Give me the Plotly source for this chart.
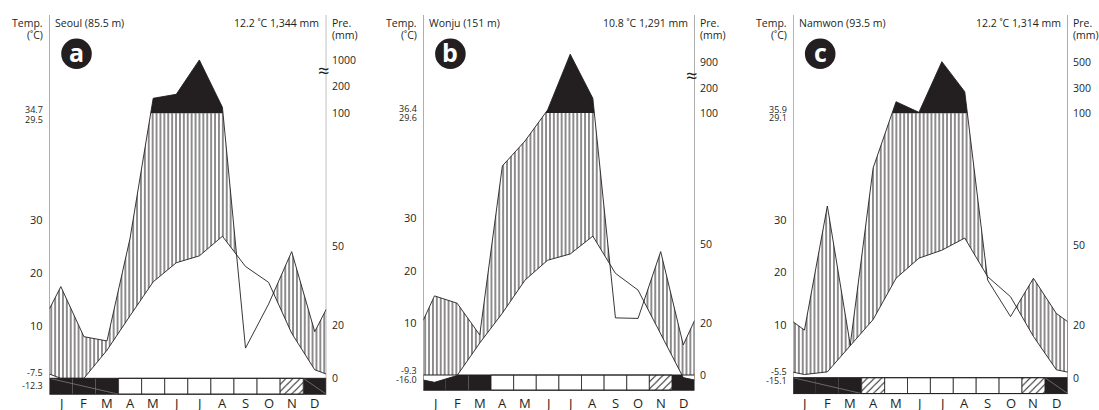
import numpy as np
import plotly.graph_objects as go

W, H = 1099, 410
MONTHS = ["J", "F", "M", "A", "M", "J", "J", "A", "S", "O", "N", "D"]
TEMP_TICKS = [10, 20, 30]

# ---------------- data ----------------
seoul_name = "Seoul (85.5 m)"
seoul_summary = "12.2 ˚C 1,344 mm"
seoul_temp = [0.0, 0.0, 5.3, 11.8, 18.2, 21.8, 23.1, 26.8, 21.1, 18.1, 8.5, 1.6]
seoul_prec = [34.6, 15.7, 14.1, 52.9, 155, 169.5, 1000, 122, 11.4, 28, 47.8, 17.6]
seoul_frost = ["b", "b", "b", "w", "w", "w", "w", "w", "w", "w", "h", "b"]
seoul_pre_ticks = [0, 20, 50, 100, 200, 1000]
seoul_max_labels = ["34.7", "29.5"]
seoul_min_labels = ["-7.5", "-12.3"]

wonju_name = "Wonju (151 m)"
wonju_summary = "10.8 ˚C 1,291 mm"
wonju_temp = [-1.4, -0.1, 6.1, 11.8, 18.1, 21.9, 23.1, 26.5, 19.4, 16.2, 8.0, -0.5]
wonju_prec = [30.2, 27.4, 15.3, 79.8, 89.3, 112, 1100, 158.7, 21.8, 21.6, 47.1, 11.5]
wonju_frost = ["b", "b", "b", "w", "w", "w", "w", "w", "w", "w", "h", "b"]
wonju_pre_ticks = [0, 20, 50, 100, 200, 900]
wonju_max_labels = ["36.4", "29.6"]
wonju_min_labels = ["-9.3", "-16.0"]

namwon_name = "Namwon (93.5 m)"
namwon_summary = "12.2 ˚C 1,314 mm"
namwon_temp = [0.6, 1.1, 6.1, 11.0, 18.8, 22.6, 24.1, 26.4, 19.1, 15.3, 7.8, 1.5]
namwon_prec = [18.0, 64.9, 12.4, 79.3, 192, 107, 500, 272, 36.9, 23.1, 37.6, 24.3]
namwon_frost = ["b", "b", "b", "h", "w", "w", "w", "w", "w", "w", "h", "b"]
namwon_pre_ticks = [0, 20, 50, 100, 300, 500]
namwon_max_labels = ["35.9", "29.1"]
namwon_min_labels = ["-5.5", "-15.1"]

# ---------------- layout / style config ----------------
INK = "#231f20"
FONT = "Open Sans"
panels = [
    dict(letter="a", name=seoul_name, summary=seoul_summary, temp=seoul_temp, prec=seoul_prec,
         frost=seoul_frost, pticks=seoul_pre_ticks, ppos=[0, 10, 25, 50, 55.15, 60.06],
         maxl=seoul_max_labels, minl=seoul_min_labels,
         left=49.3, right=326.3, y0=378.3, k=5.30, bar=-3.0,
         maxy=[109.0, 119.3], miny=[372.3, 385.0], brk=70.5, diag=True),
    dict(letter="b", name=wonju_name, summary=wonju_summary, temp=wonju_temp, prec=wonju_prec,
         frost=wonju_frost, pticks=wonju_pre_ticks, ppos=[0, 10, 25, 50, 54.77, 59.79],
         maxl=wonju_max_labels, minl=wonju_min_labels,
         left=423.2, right=694.6, y0=375.0, k=5.24, bar=-2.9,
         maxy=[108.3, 117.3], miny=[370.0, 379.3], brk=76.0, diag=False),
    dict(letter="c", name=namwon_name, summary=namwon_summary, temp=namwon_temp, prec=namwon_prec,
         frost=namwon_frost, pticks=namwon_pre_ticks, ppos=[0, 10, 25, 50, 54.71, 59.74],
         maxl=namwon_max_labels, minl=namwon_min_labels,
         left=793.0, right=1067.8, y0=377.7, k=5.29, bar=-3.0,
         maxy=[109.8, 117.8], miny=[371.0, 380.0], brk=None, diag=True),
]


def pscale(p, ticks, pos):
    """map precipitation (mm) to diagram units, piecewise linear through the right-axis ticks"""
    p = np.asarray(p, float)
    out = np.interp(p, ticks, pos)
    slope = (pos[-1] - pos[-2]) / (ticks[-1] - ticks[-2])
    over = p > ticks[-1]
    out[over] = pos[-1] + (p[over] - ticks[-1]) * slope
    return out


def refine(xs, series, consts):
    funcs = [np.asarray(s, float) for s in series] + [np.full(len(xs), c, float) for c in consts]
    rx = [xs[0]]
    for i in range(len(xs) - 1):
        ts = []
        for a in range(len(funcs)):
            for b in range(a + 1, len(funcs)):
                d0 = funcs[a][i] - funcs[b][i]
                d1 = funcs[a][i + 1] - funcs[b][i + 1]
                if d0 * d1 < 0:
                    ts.append(d0 / (d0 - d1))
        for t in sorted(ts):
            rx.append(xs[i] + t * (xs[i + 1] - xs[i]))
        rx.append(xs[i + 1])
    rx = np.array(rx)
    return rx, [np.interp(rx, xs, np.asarray(s, float)) for s in series]


def py2paper(py):
    return 1 - py / H


fig = go.Figure()
axes = {}
annotations = []
shapes = []

for idx, P in enumerate(panels):
    sfx = "" if idx == 0 else str(idx + 1)
    xa, ya = "x" + sfx, "y" + sfx
    axes["xaxis" + sfx] = dict(domain=[P["left"] / W, P["right"] / W], range=[0, 12],
                               visible=False, fixedrange=True, anchor=ya)
    axes["yaxis" + sfx] = dict(domain=[0, 1], range=[-(H - P["y0"]) / P["k"], P["y0"] / P["k"]],
                               visible=False, fixedrange=True, anchor=xa)

    def T(py, P=P):
        return (P["y0"] - py) / P["k"]

    temp = list(P["temp"])
    prec = list(P["prec"])
    xs = np.array([0.0] + [i + 0.5 for i in range(12)] + [12.0])
    t_edge = (temp[0] + temp[-1]) / 2
    p_edge = (prec[0] + prec[-1]) / 2
    tfull = np.array([t_edge] + temp + [t_edge])
    pfull = pscale([p_edge] + prec + [p_edge], P["pticks"], P["ppos"])

    rx, (rt, rp) = refine(xs, [tfull, pfull], [0.0, 50.0])
    lower = np.maximum(rt, 0)
    upper = np.maximum(np.minimum(rp, 50), lower)
    common = dict(xaxis=xa, yaxis=ya, mode="lines", hoverinfo="skip", showlegend=False)

    # humid period: vertical hatching
    fig.add_trace(go.Scatter(x=rx, y=lower, line=dict(width=0), **common))
    fig.add_trace(go.Scatter(x=rx, y=upper, line=dict(width=0), fill="tonexty", fillcolor="white",
                             fillpattern=dict(shape="|", size=3.9, solidity=0.26, fgcolor=INK,
                                              bgcolor="white", fillmode="replace"), **common))
    # precipitation > 100 mm: black
    fig.add_trace(go.Scatter(x=rx, y=np.full(len(rx), 50.0), line=dict(width=0), **common))
    fig.add_trace(go.Scatter(x=rx, y=np.maximum(rp, 50), line=dict(width=0), fill="tonexty",
                             fillcolor=INK, **common))

    # frost bar
    bb = P["bar"]
    for i, code in enumerate(P["frost"]):
        if code == "b":
            shapes.append(dict(type="rect", xref=xa, yref=ya, x0=i, x1=i + 1, y0=bb, y1=0,
                               fillcolor=INK, line=dict(width=0), layer="below"))
        elif code == "w":
            shapes.append(dict(type="rect", xref=xa, yref=ya, x0=i, x1=i + 1, y0=bb, y1=0,
                               fillcolor="white", line=dict(width=0.8, color=INK), layer="below"))
        else:
            fig.add_trace(go.Scatter(x=[i, i + 1, i + 1, i, i], y=[0, 0, bb, bb, 0], fill="toself",
                                     fillcolor="white", line=dict(width=0.8, color=INK),
                                     fillpattern=dict(shape="/", size=5, solidity=0.2, fgcolor=INK,
                                                      bgcolor="white", fillmode="replace"),
                                     **common))
    # below-zero temperatures: white wedge in the frost bar
    rx2, (rt2,) = refine(xs, [tfull], [0.0])
    fig.add_trace(go.Scatter(x=rx2, y=np.zeros(len(rx2)), line=dict(width=0), **common))
    fig.add_trace(go.Scatter(x=rx2, y=np.minimum(rt2, 0), line=dict(width=0), fill="tonexty",
                             fillcolor="white", **common))
    if P["diag"]:
        for (x0, x1) in [(0, 3), (11, 12)]:
            shapes.append(dict(type="line", xref=xa, yref=ya, x0=x0, x1=x1, y0=0, y1=bb,
                               line=dict(color="#8a8a8a", width=0.7)))

    # curves
    fig.add_trace(go.Scatter(x=xs, y=tfull, line=dict(color=INK, width=0.9), **common))
    fig.add_trace(go.Scatter(x=xs, y=pfull, line=dict(color=INK, width=0.9), **common))

    # frame lines
    top = T(15)
    shapes += [
        dict(type="line", xref=xa, yref=ya, x0=0, x1=12, y0=0, y1=0, line=dict(color=INK, width=1)),
        dict(type="line", xref=xa, yref=ya, x0=0, x1=12, y0=bb, y1=bb, line=dict(color=INK, width=1)),
        dict(type="line", xref=xa, yref=ya, x0=0, x1=0, y0=bb, y1=top, line=dict(color="#6d6d6d", width=1)),
        dict(type="line", xref=xa, yref=ya, x0=12, x1=12, y0=bb, y1=top, line=dict(color="#6d6d6d", width=1)),
    ]

    def ann(text, x, y, xref, yref, size=10.5, xanchor="center", xshift=0, color=INK, weight="normal"):
        annotations.append(dict(text=text, x=x, y=y, xref=xref, yref=yref, showarrow=False,
                                xanchor=xanchor, yanchor="middle", xshift=xshift, borderpad=0,
                                font=dict(family=FONT, size=size, color=color, weight=weight)))

    ann("Temp.", 0, py2paper(23.3), xa, "paper", xanchor="right", xshift=-5)
    ann("(˚C)", 0, py2paper(35.5), xa, "paper", xanchor="right", xshift=-5)
    ann(P["name"], 0, py2paper(23.3), xa, "paper", xanchor="left", xshift=4.5)
    ann(P["summary"], 12, py2paper(23.3), xa, "paper", xanchor="right", xshift=-6)
    ann("Pre.", 12, py2paper(23.3), xa, "paper", xanchor="left", xshift=4.5)
    ann("(mm)", 12, py2paper(35.5), xa, "paper", xanchor="left", xshift=4.5)
    for t in TEMP_TICKS:
        ann(str(t), 0, t, xa, ya, size=11, xanchor="right", xshift=-5)
    for p, yv in zip(P["pticks"], pscale(P["pticks"], P["pticks"], P["ppos"])):
        ann(str(p), 12, float(yv), xa, ya, size=10.5, xanchor="left", xshift=4.5)
    for txt, py in zip(P["maxl"], P["maxy"]):
        ann(txt, 0, py2paper(py), xa, "paper", size=9, xanchor="right", xshift=-5)
    for txt, py in zip(P["minl"], P["miny"]):
        ann(txt, 0, py2paper(py), xa, "paper", size=9, xanchor="right", xshift=-5)
    if P["brk"] is not None:
        ann("≈", P["right"] / W, py2paper(P["brk"]), "paper", "paper", size=20, xshift=-3)
    for i, m in enumerate(MONTHS):
        ann(m, i + 0.5, py2paper(403.0), xa, "paper", size=13)

    # badge
    cx, cy, r = P["left"] + 27.2, 53.8, 15.3
    shapes.append(dict(type="circle", xref="paper", yref="paper", x0=(cx - r) / W, x1=(cx + r) / W,
                       y0=py2paper(cy + r), y1=py2paper(cy - r), fillcolor=INK, line=dict(width=0)))
    ann(P["letter"], cx / W, py2paper(cy - 1.5), "paper", "paper", size=25, color="white", weight="bold")

fig.update_layout(width=W, height=H, margin=dict(l=0, r=0, t=0, b=0), paper_bgcolor="white",
                  plot_bgcolor="white", showlegend=False, annotations=annotations, shapes=shapes, **axes)
fig.write_html("out.html", config={"displayModeBar": False, "staticPlot": True},
               post_script="document.body.style.margin='0';document.body.style.padding='0';"
                           "document.body.style.overflow='hidden';")
